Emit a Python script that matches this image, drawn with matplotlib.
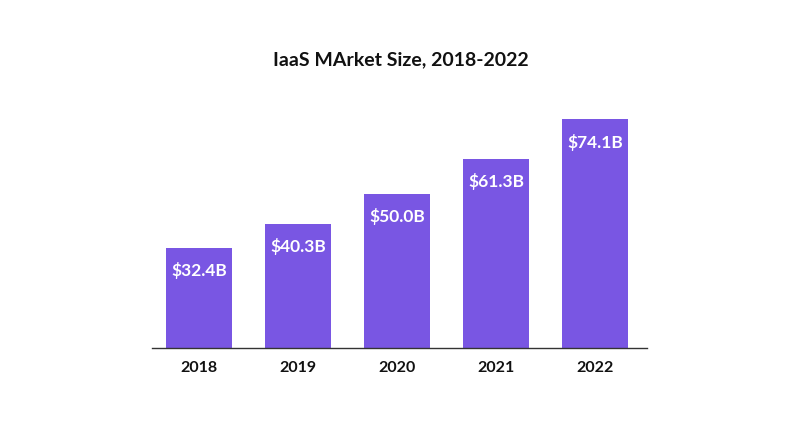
import matplotlib.pyplot as plt

# === Data ===
years = ['2018', '2019', '2020', '2021', '2022']
market_size = [32.4, 40.3, 50.0, 61.3, 74.1]
value_labels = ['$32.4B', '$40.3B', '$50.0B', '$61.3B', '$74.1B']

BAR_COLOR = '#7956E3'

plt.rcParams['font.family'] = ['Lato', 'DejaVu Sans']

fig = plt.figure(figsize=(8.01, 4.34), dpi=100)
ax = fig.add_axes([152 / 801, 86 / 434, 495 / 801, 247 / 434])

x = range(len(years))
bars = ax.bar(x, market_size, width=0.667, color=BAR_COLOR, zorder=2)

# value labels inside the top of each bar
for rect, lab in zip(bars, value_labels):
    ax.annotate(lab, (rect.get_x() + rect.get_width() / 2, rect.get_height()),
                xytext=(0, -23), textcoords='offset pixels',
                ha='center', va='center', color='white', fontsize=12.5, fontweight='bold')

ax.set_xlim(-0.475, 4.525)
ax.set_ylim(0, 80)
ax.set_xticks(list(x))
ax.set_xticklabels(years, fontsize=11.5, fontweight='bold', color='#111111')
ax.tick_params(axis='x', length=0, pad=9)
ax.set_yticks([])

for side in ['top', 'right', 'left']:
    ax.spines[side].set_visible(False)
ax.spines['bottom'].set_color('#333333')
ax.spines['bottom'].set_linewidth(1.0)
ax.spines['bottom'].set_zorder(3)

fig.text(0.5, 1 - 60 / 434, 'IaaS MArket Size, 2018-2022', ha='center', va='center',
         fontsize=14, fontweight='bold', color='#111111')

plt.savefig('out.png', dpi=100)
plt.close()
